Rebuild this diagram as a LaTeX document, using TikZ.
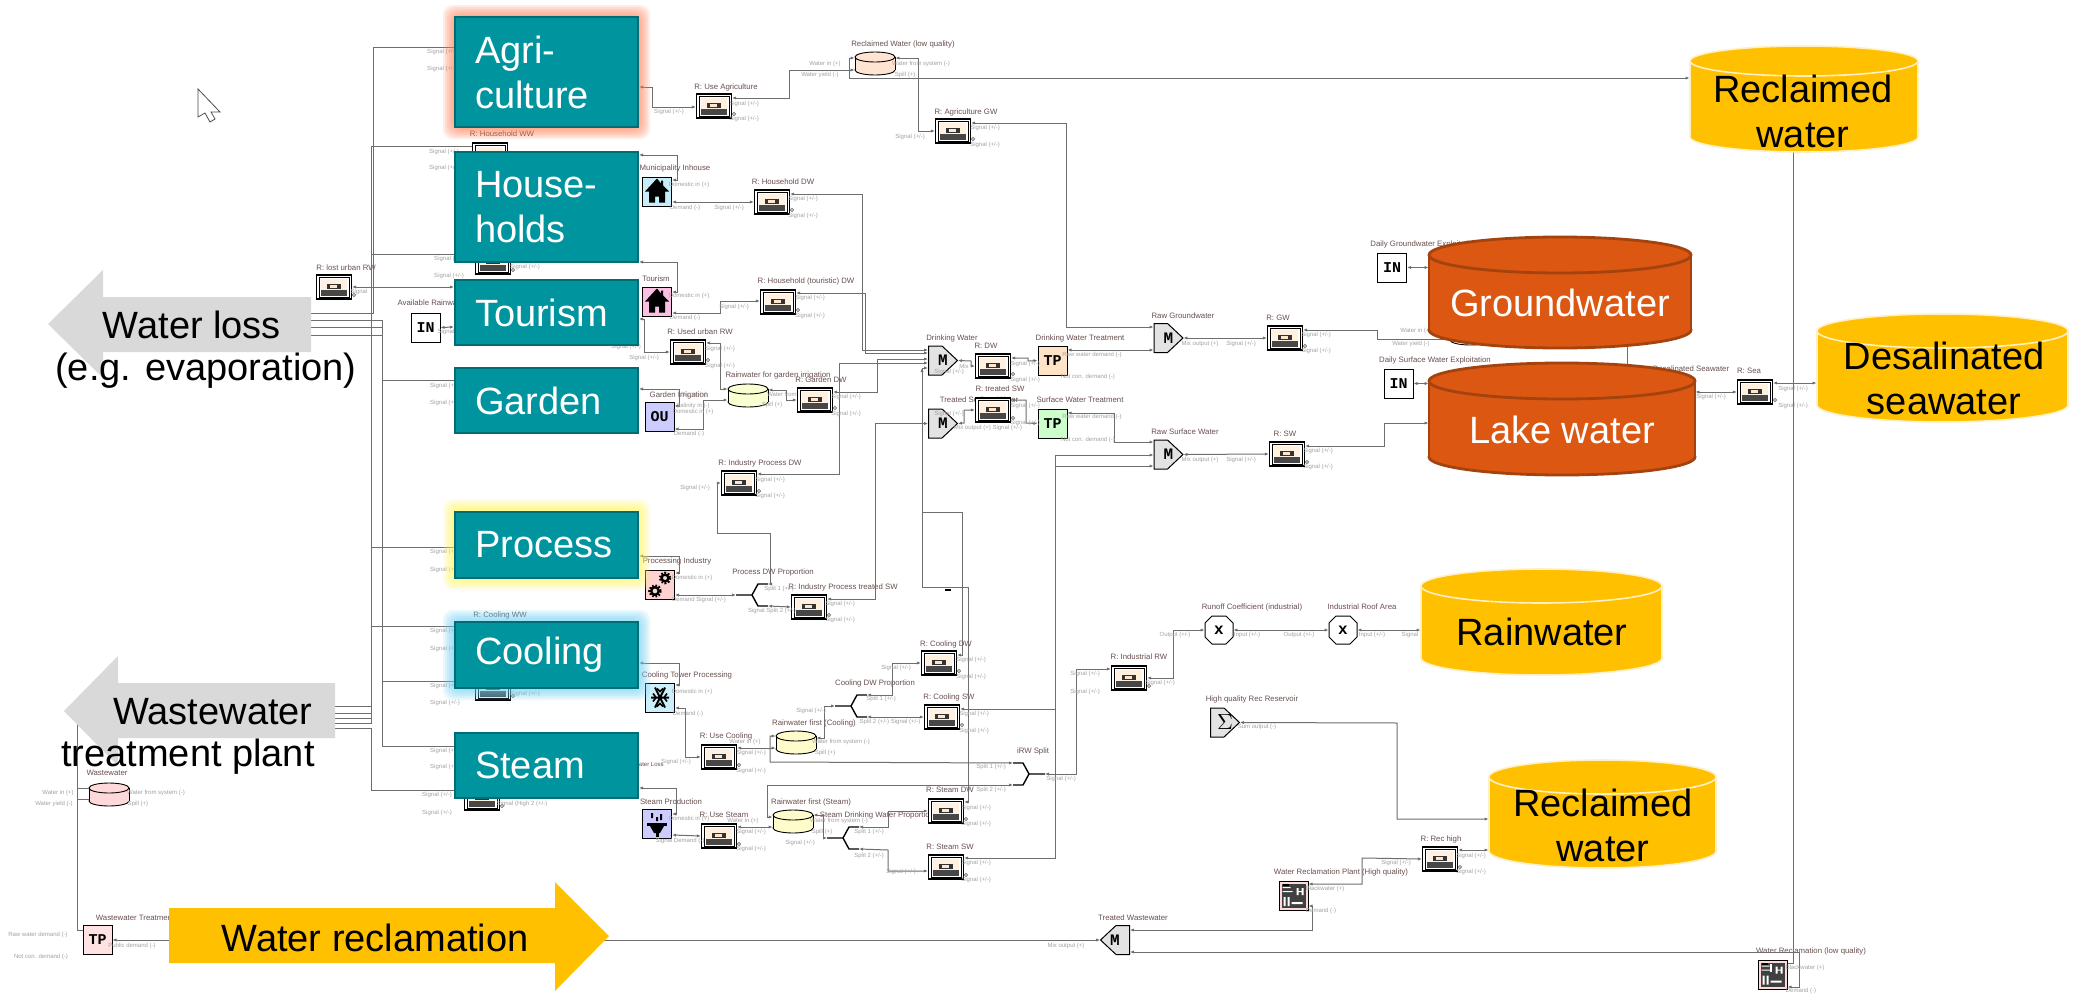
\documentclass[tikz,border=0pt]{standalone}
\usepackage{fontspec}
\setmainfont{Liberation Sans}
\newfontfamily\monob[BoldFont={Liberation Mono Bold}]{Liberation Mono}
\usetikzlibrary{calc,arrows.meta}
\pgfdeclarelayer{bg}
\pgfsetlayers{bg,main}
\definecolor{teal1}{HTML}{00949F}
\definecolor{teal2}{HTML}{006C74}
\definecolor{org1}{HTML}{DB5712}
\definecolor{org2}{HTML}{A5430F}
\definecolor{yel1}{HTML}{FFC000}
\definecolor{yel2}{HTML}{FFEFC4}
\definecolor{grey1}{HTML}{D9D9D9}
\definecolor{wire}{HTML}{6E6E6E}
\definecolor{lab}{HTML}{A2A2A2}
\definecolor{ttlc}{HTML}{6A5050}
\tikzset{
  bigbox/.style={draw=teal2,fill=teal1,line width=1pt,inner xsep=10pt,inner ysep=0pt,text=white,align=left,text width=71.5pt,minimum height=#1,font=\fontsize{19}{22.5}\selectfont},
  bigtext/.style={inner sep=0pt,align=center,font=\fontsize{19}{22.5}\selectfont},
  conn/.style={draw=wire,line width=0.5pt,{Latex[length=2pt,width=1.6pt]}-{Latex[length=2pt,width=1.6pt]}},
  bus/.style={draw=wire,line width=0.5pt},
  sml/.style={inner sep=0pt,text=lab,font=\fontsize{3}{3}\selectfont},
  ttl/.style={inner sep=0pt,text=ttlc,font=\fontsize{3.9}{4}\selectfont},
  recbox/.style={draw=black,fill=white,line width=0.6pt,minimum width=17.5pt,minimum height=12pt,inner sep=0pt},
  iconbox/.style={draw=black,line width=0.5pt,minimum width=14.5pt,minimum height=14.5pt,inner sep=0pt,font=\monob\bfseries\fontsize{7.5}{7.5}\selectfont},
  glyph/.style={inner sep=0pt,font=\monob\bfseries\fontsize{8}{8}\selectfont}
}
\newcounter{lb}
\newcommand\lbl[3]{\stepcounter{lb}\node[sml] (lb\thelb) at (#1,#2) {#3};}
\newcommand\rsig[3]{\lbl{#1}{#2}{Signal (+/-)}\lbl{#1}{#3}{Signal (+/-)}}
\newcommand\tl[3]{\stepcounter{lb}\node[ttl] (lb\thelb) at (#1,#2) {#3};}
\newcommand\recb[6]{%
  \node[recbox] (#1) at (#2,#3) {};
  \begin{scope}[shift={(#1.center)}]
    \draw[line width=0.3pt] (-15,-10) rectangle (15,10);
    \fill[fill=white!88!orange] (-13,-8) rectangle (13,3);
    \fill[fill=black!72] (-13,3) rectangle (13,8.5);
    \fill[fill=black!80] (-7,-3.5) rectangle (7,1.5);
    \fill[fill=white!80!orange] (-4,-2.5) rectangle (3,0.5);
    \draw[wire,line width=0.3pt] (20,8) circle (1.6);
  \end{scope}
  \tl{#5}{#6}{#4}}
\newcommand\ibox[8]{%
  \node[iconbox,fill=#4] (#1) at (#2,#3) {#5};
  \tl{#7}{#8}{#6}}
\newcommand\houseg[1]{\begin{scope}[shift={(#1.center)}]
  \fill (0,-13) -- (-12,0) -- (-8,0) -- (-8,11) -- (-2,11) -- (-2,5) -- (2,5) -- (2,11) -- (8,11) -- (8,0) -- (12,0) -- (6,-6) -- (6,-11) -- (4,-11) -- (4,-8) -- cycle;
  \end{scope}}
\newcommand\gearg[1]{\begin{scope}[shift={(#1.center)}]
  \draw[line width=1.3pt,dash pattern=on 0.8pt off 0.8pt] (5,-7) circle (5);
  \draw[line width=1.3pt,dash pattern=on 0.8pt off 0.8pt] (-5,6) circle (5.5);
  \draw[line width=1.2pt] (5,-7) circle (3.4);
  \draw[line width=1.2pt] (-5,6) circle (3.8);
  \end{scope}}
\newcommand\snowg[1]{\begin{scope}[shift={(#1.center)}]
  \draw[line width=1pt] (-9,0) -- (9,0) (-5,-10) -- (5,10) (-5,10) -- (5,-10);
  \draw[line width=0.8pt] (-7,-4) -- (-4,0) -- (-7,4) (7,-4) -- (4,0) -- (7,4) (-3,-9) -- (0,-6) -- (3,-9) (-3,9) -- (0,6) -- (3,9);
  \end{scope}}
\newcommand\plugg[1]{\begin{scope}[shift={(#1.center)}]
  \fill (-10,-1) rectangle (10,2);
  \fill (-7,2) -- (7,2) -- (3,9) -- (-3,9) -- cycle;
  \fill (-1.5,9) rectangle (1.5,13);
  \fill (-6,-11) rectangle (-4,-6) (-1,-7) rectangle (1,-3) (3,-10) rectangle (5,-4);
  \end{scope}}
\newcommand\plantg[2]{\begin{scope}[shift={(#1.center)}]
  \fill[black!75] (-12,-12) rectangle (12,12);
  \fill[white] (-10,1) rectangle (-8,10) (-6,1) rectangle (-4,10) (-2,6) rectangle (9,8);
  \fill[white] (3,-8) rectangle (5,-1) (8,-8) rectangle (10,-1) (3,-5) rectangle (10,-4);
  \fill[white] (-11,-5) rectangle (-1,-4) (-11,-9) rectangle (-3,-8);
  \fill[black] (-11,-12) rectangle (-5,-10);
  \fill[white] #2;
  \end{scope}}
\newcommand\tank[7]{%
  \node[inner sep=0pt,minimum width=20pt,minimum height=11.5pt] (#1) at (#2,#3) {};
  \begin{scope}[shift={(#1.center)}]
    \fill[fill=#4,draw=black,line width=0.45pt] (0,7) ellipse [x radius=20,y radius=5];
    \fill[fill=#4] (-20,-6) rectangle (20,7);
    \draw[line width=0.45pt] (-20,-6) -- (-20,7) (20,-6) -- (20,7);
    \fill[fill=#4,draw=black,line width=0.45pt] (0,-6) ellipse [x radius=20,y radius=5];
  \end{scope}
  \tl{#6}{#7}{#5}}
\newcommand\mixb[8]{%
  \begin{scope}[shift={(#2,#3)},xscale=#4]
    \fill[fill=black!11,draw=black,line width=0.5pt] (-14.5,-14.5) -- (-1,-14.5) -- (14.5,0) -- (-1,14.5) -- (-14.5,14.5) -- cycle;
  \end{scope}
  \node[glyph,minimum size=14.5pt] (#1) at (#2,#3) {#5};
  \tl{#7}{#8}{#6}}
\newcommand\octb[6]{%
  \begin{scope}[shift={(#2,#3)}]
    \fill[fill=white,draw=black,line width=0.5pt] (-14,-7) -- (-7,-14) -- (7,-14) -- (14,-7) -- (14,7) -- (7,14) -- (-7,14) -- (-14,7) -- cycle;
  \end{scope}
  \node[glyph,minimum size=14pt] (#1) at (#2,#3) {x};
  \tl{#5}{#6}{#4}}
\newcommand\forkb[4]{%
  \begin{scope}[shift={(#2,#3)},xscale=#4]
    \coordinate (#1-i) at (-16,0);
    \coordinate (#1-a) at (16,-11);
    \coordinate (#1-b) at (16,11);
    \draw[line width=0.7pt,line join=round] (-16,0) -- (0,0) -- (6,-11) -- (16,-11);
    \draw[line width=0.7pt,line join=round] (0,0) -- (6,11) -- (16,11);
  \end{scope}}
\newcommand\cyl[9]{% name x1 y1 x2 y2 ry fill draw lw
  \pgfmathsetmacro\cxm{(#2+#4)/2}
  \pgfmathsetmacro\crx{(#4-#2)/2}
  \pgfmathsetmacro\cya{#3+#6}
  \pgfmathsetmacro\cyb{#5-#6}
  \node[inner sep=0pt,minimum width={(#4-#2)*0.5pt},minimum height={(#5-#3)*0.5pt}] (#1) at (\cxm,{(#3+#5)/2}) {};
  \fill[fill=#7,draw=#8,line width=#9] (\cxm,\cyb) ellipse [x radius=\crx,y radius=#6];
  \fill[fill=#7] (#2,\cya) rectangle (#4,\cyb);
  \draw[#8,line width=#9] (#2,\cya) -- (#2,\cyb) (#4,\cya) -- (#4,\cyb);
  \fill[fill=#7,draw=#8,line width=#9] (\cxm,\cya) ellipse [x radius=\crx,y radius=#6];
}
\newcommand\glowr[5]{% x1 y1 x2 y2 color
  \foreach \g in {2,4,...,12}{\fill[#5,opacity=0.14,rounded corners=5pt] ({#1-\g},{#2-\g}) rectangle ({#3+\g},{#4+\g});}
}
\begin{document}
\begin{tikzpicture}[x=0.5pt,y=-0.5pt]
\useasboundingbox (0,0) rectangle (2074,1001);

% ---------- big shapes (front layer) ----------
\glowr{455}{17}{638}{127}{red!50!orange!70!white}
\glowr{455}{511}{638}{578}{yellow!70!white}
\glowr{455}{622}{638}{688}{cyan!60!white}
\node[bigbox=55pt] (agri) at (546.5,72) {Agri-\\culture};
\node[bigbox=55pt] (house) at (546.5,207) {House-\\holds};
\node[bigbox=32.5pt] (tour) at (546.5,312.5) {Tourism};
\node[bigbox=32.5pt] (gard) at (546.5,400.5) {Garden};
\node[bigbox=33pt] (proc) at (546.5,544.5) {Process};
\node[bigbox=33pt] (cool) at (546.5,655) {Cooling};
\node[bigbox=32.5pt] (stea) at (546.5,765.5) {Steam};

\cyl{cRecT}{1690}{46}{1918}{152}{15}{yel1}{yel2}{0.8pt}
\cyl{cGW}{1429}{237}{1691}{348}{18}{org1}{org2}{1.4pt}
\cyl{cLake}{1429}{363}{1695}{475}{18}{org1}{org2}{1.4pt}
\cyl{cDes}{1817}{314}{2068}{422}{17}{yel1}{yel2}{0.8pt}
\cyl{cRain}{1421}{569}{1662}{675}{17}{yel1}{yel2}{0.8pt}
\cyl{cRecM}{1489}{760}{1716}{868}{17}{yel1}{yel2}{0.8pt}
\node[bigtext] (tRecT) at (1803,111) {Reclaimed\\water};
\node[bigtext,text=white] (tGW) at (1560,303) {Groundwater};
\node[bigtext,text=white] (tLake) at (1562,430) {Lake water};
\node[bigtext] (tDes) at (1944,378) {Desalinated\\seawater};
\node[bigtext] (tRain) at (1542,632) {Rainwater};
\node[bigtext] (tRecM) at (1603,825) {Reclaimed\\water};

\fill[grey1] (48,324) -- (103,270) -- (103,297) -- (311,297) -- (311,352) -- (103,352) -- (103,378) -- cycle;
\fill[grey1] (64,711) -- (118,656) -- (118,683) -- (335,683) -- (335,738) -- (118,738) -- (118,766) -- cycle;
\fill[yel1] (169,908) -- (555,908) -- (555,882) -- (609,936) -- (555,991) -- (555,963) -- (169,963) -- cycle;
\node[bigtext] (tLoss) at (192,325) {Water loss};
\node[bigtext] (tEvap) at (206,371) {(e.g. evaporation)};
\node[bigtext] (tWaste) at (213,712) {Wastewater};
\node[bigtext] (tPlant) at (188,757) {treatment plant};
\node[bigtext] (tRecl) at (375,938) {Water reclamation};

% cursor
\fill[fill=white,draw=black!70,line width=0.4pt] (198,89) -- (198,117) -- (205,113) -- (210,122) -- (215,119) -- (211,112) -- (220,112) -- cycle;

\begin{pgfonlayer}{bg}
\fill[white] (0,0) rectangle (2074,1001);
% ---------- blocks ----------
\recb{rHHww}{490}{155}{R: Household WW}{502}{134}
\recb{rT}{493}{262}{}{493}{250}
\recb{rCw}{493}{636}{R: Cooling WW}{500}{615}
\recb{rCl}{493}{688}{}{493}{680}
\recb{rSt}{482}{798}{}{482}{790}
\recb{rLost}{334}{287}{R: lost urban RW}{346}{268}
\ibox{aRain}{425.5}{327.5}{white}{IN}{Available Rainwater}{432}{303}
\recb{rUseAg}{714}{106}{R: Use Agriculture}{726}{87}
\tank{tkRec}{875}{63}{red!15!orange!18!white}{Reclaimed Water (low quality)}{903}{44}
\recb{rAgGW}{953}{131}{R: Agriculture GW}{966}{112}
\ibox{iMun}{657}{191.5}{cyan!22!white}{}{Municipality Inhouse}{675}{168}
\houseg{iMun}
\recb{rHHdw}{772}{202}{R: Household DW}{783}{182}
\ibox{iTour}{657}{301.5}{magenta!25!white}{}{Tourism}{656}{279}
\houseg{iTour}
\recb{rHTdw}{778}{302}{R: Household (touristic) DW}{806}{281}
\recb{rUsed}{688}{352}{R: Used urban RW}{700}{332}
\tank{tkGard}{748}{395}{green!12!yellow!18!white}{Rainwater for garden irrigation}{778}{375}
\ibox{iGard}{659.5}{417}{blue!20!white}{OU}{Garden Irrigation}{679}{395}
\recb{rGaDW}{815}{400}{R: Garden DW}{821}{380}
\mixb{mDW}{943}{360.5}{1}{M}{Drinking Water}{952}{338}
\recb{rDW}{993}{366}{R: DW}{986}{346}
\ibox{tpDW}{1052.5}{360.5}{orange!22!white}{TP}{Drinking Water Treatment}{1080}{338}
\mixb{mGW}{1168.5}{338}{1}{M}{Raw Groundwater}{1183}{316}
\recb{rGW}{1285}{338}{R: GW}{1278}{318}
\tank{tkHid}{1470}{333}{white}{}{1470}{325}
\ibox{inGW}{1392}{267.5}{white}{IN}{Daily Groundwater Exploitation}{1424}{244}
\ibox{inSW}{1398.5}{383.5}{white}{IN}{Daily Surface Water Exploitation}{1435}{360}
\mixb{mTS}{943}{423.5}{1}{M}{Treated Surface Water}{979}{400}
\recb{rTS}{993}{410}{R: treated SW}{1000}{389}
\ibox{tpSW}{1052.5}{423.5}{green!20!white}{TP}{Surface Water Treatment}{1080}{400}
\mixb{mSW}{1168.5}{454.5}{1}{M}{Raw Surface Water}{1185}{432}
\recb{rSW}{1287}{454}{R: SW}{1285}{434}
\recb{rSea}{1755}{392}{R: Sea}{1749}{371}
\tl{1691}{369}{Desalinated Seawater}
\recb{rIPd}{739}{483}{R: Industry Process DW}{760}{463}
\ibox{iProc}{660}{585}{pink!70!white}{}{Processing Industry}{677}{561}
\gearg{iProc}
\forkb{fkP}{752}{595}{1}
\tl{773}{572}{Process DW Proportion}
\recb{rIPs}{809}{607}{R: Industry Process treated SW}{843}{587}
\ibox{iCool}{660}{697.5}{cyan!20!white}{}{Cooling Tower Processing}{687}{675}
\snowg{iCool}
\recb{rUC}{719}{757}{R: Use Cooling}{726}{736}
\tank{tkCool}{796}{742}{yellow!20!white}{Rainwater first (Cooling)}{814}{723}
\forkb{fkC}{851}{706}{1}
\tl{875}{683}{Cooling DW Proportion}
\recb{rCD}{939}{663}{R: Cooling DW}{946}{644}
\recb{rCS}{942}{717}{R: Cooling SW}{949}{697}
\forkb{fkR}{1029}{774}{-1}
\tl{1033}{751}{iRW Split}
\recb{rIR}{1129}{678}{R: Industrial RW}{1139}{657}
\octb{oRun}{1219}{630}{Runoff Coefficient (industrial)}{1252}{607}
\octb{oRoof}{1343}{630}{Industrial Roof Area}{1362}{607}
\mixb{mSum}{1225}{722.5}{1}{\fontsize{11}{11}\selectfont$\Sigma$}{High quality Rec Reservoir}{1252}{699}
\recb{rRH}{1440}{859}{R: Rec high}{1441}{839}
\ibox{iWRh}{1293.5}{896}{pink!60!white}{}{Water Reclamation Plant (High quality)}{1341}{872}
\plantg{iWRh}{(0,0) rectangle (0,0)}
\ibox{iWRl}{1772.5}{974.5}{pink!60!white}{}{Water Reclamation (low quality)}{1811}{951}
\plantg{iWRl}{(-3,-11) rectangle (-1,-3)}
\mixb{mTW}{1115}{940}{-1}{M}{Treated Wastewater}{1133}{918}
\ibox{tpWW}{97.5}{940}{pink!45!white}{TP}{Wastewater Treatment Plant}{145}{918}
\tank{tkWW}{109}{794}{pink!60!white}{Wastewater}{107}{773}
\ibox{iSteam}{657}{824}{blue!20!white}{}{Steam Production}{671}{802}
\plugg{iSteam}
\recb{rUS}{719}{836}{R: Use Steam}{724}{815}
\tank{tkSteam}{793}{821}{yellow!20!white}{Rainwater first (Steam)}{811}{802}
\forkb{fkS}{843}{838}{1}
\tl{877}{815}{Steam Drinking Water Proportion}
\recb{rSD}{946}{811}{R: Steam DW}{950}{790}
\recb{rSS}{946}{867}{R: Steam SW}{950}{847}
\node[sml,text=ttlc,anchor=east] (coolLoss) at (664,765) {Cooling Water Loss};

% ---------- connectors ----------
\coordinate (lA) at (311,313); \coordinate (lB) at (311,320); \coordinate (lC) at (311,327); \coordinate (lD) at (311,335);
\coordinate (wA) at (335,706); \coordinate (wB) at (335,713); \coordinate (wC) at (335,718); \coordinate (wD) at (335,723); \coordinate (wE) at (335,728);
\draw[bus] (lA) -- (373,313) -- (373,47) -- (agri.west |- 0,47);
\draw[bus] (lB) -- (382,320) -- (382,746) -- (stea.west |- 0,746);
\draw[bus] (lC) -- (382,327) -- (382,380) -- (gard.west |- 0,380);
\draw[bus] (lD) -- (382,335) -- (382,681) -- (cool.west |- 0,681);
\draw[bus] (wA) -- (371,706) -- (371,146) -- (rHHww.west |- 0,146);
\draw[bus] (wB) -- (371,713) -- (371,254) -- (house.west |- 0,254);
\draw[bus] (wC) -- (371,718) -- (371,547) -- (proc.west |- 0,547);
\draw[bus] (wD) -- (371,723) -- (371,626) -- (cool.west |- 0,626);
\draw[bus] (wE) -- (371,728) -- (371,790) -- (stea.west |- 0,790);
\draw[conn] (rLost.east) -- (tour.west |- 0,287);
\draw[conn] (aRain.east) -- (tour.west |- 0,327);

\draw[conn] (agri.east |- 0,87) -- (652,87) -- (652,107) -- (rUseAg.west |- 0,107);
\draw[conn] (rUseAg.east |- 0,98) -- (789,98) -- (789,70) -- (tkRec.west |- 0,70);
\draw[conn] (tkRec.west |- 0,58) -- (849,58) -- (849,78) -- (cRecT.west |- 0,78);
\draw[conn] (tkRec.east |- 0,58) -- (918,58) -- (918,131) -- (rAgGW.west);
\draw[conn] (rAgGW.east |- 0,123) -- (1066,123) -- (1066,327) -- (mGW.west |- 0,327);

\draw[conn] (house.east |- 0,155) -- (677,155) -- (677,180) -- (iMun.east |- 0,180);
\draw[conn] (iMun.east |- 0,202) -- (rHHdw.west);
\draw[conn] (rHHdw.east |- 0,194) -- (862,194) -- (862,350) -- (mDW.west |- 0,350);
\draw[conn] (house.east |- 0,262) -- (677,262) -- (677,292) -- (iTour.east |- 0,292);
\draw[conn] (iTour.east |- 0,313) -- (720,313) -- (720,301) -- (rHTdw.west |- 0,301);
\draw[conn] (rHTdw.east |- 0,293) -- (865,293) -- (865,353) -- (mDW.west |- 0,353);
\draw[conn] (tour.east |- 0,319) -- (644,319) -- (644,352) -- (rUsed.west);
\draw[conn] (rUsed.east |- 0,343) -- (720,343) -- (720,389) -- (tkGard.west |- 0,389);
\draw[conn] (gard.east |- 0,389) -- (679,389) -- (679,406) -- (iGard.east |- 0,406);
\draw[conn] (iGard.east |- 0,429) -- (703,429) -- (703,400) -- (tkGard.west |- 0,400);
\draw[conn] (tkGard.east |- 0,390) -- (786,390) -- (786,400) -- (rGaDW.west);
\draw[conn] (rGaDW.east |- 0,392) -- (877,392) -- (877,359) -- (mDW.west |- 0,359);
\draw[conn] (rIPd.east |- 0,474) -- (839,474) -- (839,363) -- (mDW.west |- 0,363);
\coordinate (vJ) at (922,368);
\draw[conn] (mDW.west |- 0,368) -- (vJ) -- (922,587) -- (968,587) -- (968,802) -- (rSD.east |- 0,802);
\draw[conn] (vJ) -- (922,512) -- (962,512) -- (962,655) -- (rCD.east |- 0,655);
\draw[line width=0.8pt] (945,590) -- (951,590);
\draw[conn] (mDW.east) -- (971,361) -- (971,366) -- (rDW.west);
\draw[conn] (rDW.east |- 0,358) -- (1028,358) -- (1028,361) -- (tpDW.west);
\draw[conn] (tpDW.east |- 0,350) -- (mGW.west |- 0,350);
\draw[conn] (mGW.east) -- (rGW.west);
\draw[conn] (rGW.east |- 0,330) -- (1377,330) -- (1377,339) -- (tkHid.west |- 0,339);
\draw[conn] (inGW.east) -- (cGW.west |- inGW.east);
\draw[conn] (inSW.east) -- (cLake.west |- inSW.east);
\draw[bus] (1627,340) -- (1627,370);
\draw[conn] (mTS.east) -- (964,423) -- (964,410) -- (rTS.west);
\draw[conn] (rTS.east |- 0,400) -- (1026,400) -- (1026,423) -- (tpSW.west);
\draw[conn] (tpSW.east |- 0,413) -- (1114,413) -- (1114,442) -- (mSW.west |- 0,442);
\draw[conn] (mSW.east) -- (rSW.west);
\draw[conn] (rSW.east |- 0,446) -- (1384,446) -- (1384,423) -- (cLake.west |- 0,423);
\draw[conn] (mSW.west |- 0,455) -- (1055,455) -- (1055,858) -- (rSS.east |- 0,858);
\draw[conn] (mSW.west |- 0,466) -- (1055,466) -- (1055,709) -- (rCS.east |- 0,709);
\draw[conn] (mTS.west) -- (875,423.5) -- (875,599) -- (rIPs.east |- 0,599);
\draw[conn] (cLake.east |- 0,392) -- (rSea.west);
\draw[conn] (rSea.east |- 0,383) -- (cDes.west |- 0,383);
\draw[bus] (cRecT.south -| 1793,0) -- (1793,963) -- (iWRl.east |- 0,963);
\draw[conn] (iProc.east |- 0,595) -- (fkP-i);
\draw[conn] (proc.east |- 0,556) -- (679,556) -- (679,573) -- (iProc.east |- 0,573);
\draw[conn] (fkP-a) -- (770,584) -- (770,533) -- (717,533) -- (717,483) -- (rIPd.west);
\draw[conn] (fkP-b) -- (rIPs.west);
\draw[conn] (cool.east |- 0,663) -- (679,663) -- (679,685) -- (iCool.east |- 0,685);
\draw[conn] (iCool.east |- 0,708) -- (685,708) -- (685,757) -- (rUC.west);
\draw[conn] (rUC.east |- 0,748) -- (tkCool.west |- 0,748);
\draw[conn] (tkCool.west |- 0,736) -- (770,736) -- (770,762) -- (fkR-a);
\draw[conn] (tkCool.east |- 0,738) -- (824,738) -- (824,706) -- (fkC-i);
\draw[conn] (fkC-a) -- (892,695) -- (892,663) -- (rCD.west);
\draw[conn] (fkC-b) -- (rCS.west);
\draw[conn] (fkR-b) -- (767,785) -- (767,817) -- (tkSteam.west |- 0,817);
\draw[conn] (fkR-i) -- (1076,774) -- (1076,669) -- (rIR.west |- 0,669);
\draw[conn] (rIR.east) -- (1173,678) -- (1173,630) -- (oRun.west);
\draw[conn] (oRun.east) -- (oRoof.west);
\draw[conn] (oRoof.east) -- (cRain.west |- oRoof.east);
\draw[conn] (mSum.east) -- (1397,723) -- (1397,819) -- (cRecM.west |- 0,819);
\draw[conn] (rRH.east |- 0,850) -- (cRecM.west |- 0,850);
\draw[conn] (iWRh.east |- 0,884) -- (1362,884) -- (1362,858) -- (rRH.west);
\draw[conn] (iWRh.east |- 0,906) -- (1312,906) -- (1312,930) -- (mTW.east |- 0,930);
\draw[conn] (iWRl.east |- 0,987) -- (1799,987) -- (1799,952) -- (mTW.east |- 0,952);
\draw[conn] (mTW.west) -- (tpWW.east);
\coordinate (wwTop) at (77,723);
\draw[bus] (wwTop) -- (77,930) -- (tpWW.west |- 0,930);
\draw[bus] (77,788) -- (tkWW.west |- 0,788);
\draw[bus] (77,799) -- (tkWW.west |- 0,799);
\draw[conn] (stea.east |- 0,788) -- (676,788) -- (676,814) -- (iSteam.east |- 0,814);
\draw[conn] (iSteam.east |- 0,835) -- (rUS.west);
\draw[conn] (rUS.east |- 0,827) -- (tkSteam.west |- 0,827);
\draw[conn] (tkSteam.east |- 0,815) -- (823,815) -- (823,838) -- (fkS-i);
\draw[conn] (fkS-a) -- (888,827) -- (888,811) -- (rSD.west);
\draw[conn] (fkS-b) -- (888,850) -- (888,871) -- (rSS.west |- 0,871);

% ---------- tiny port labels ----------
\rsig{442}{52}{69}\rsig{444}{152}{168}\rsig{449}{259}{276}\rsig{445}{386}{403}
\rsig{445}{552}{570}\rsig{445}{631}{649}\rsig{445}{686}{703}\rsig{445}{751}{767}
\rsig{437}{795}{813}\lbl{525}{267}{Signal (+/-)}\lbl{525}{694}{Signal (+/-)}\lbl{522}{804}{Signal (High 2 (+/-)}
\lbl{359}{292}{Signal}\lbl{446}{332}{Signal}
\rsig{744}{104}{119}\lbl{669}{112}{Signal (+/-)}
\lbl{825}{64}{Water in (+)}\lbl{820}{75}{Water yield (-)}\lbl{921}{64}{Water from system (-)}\lbl{905}{75}{Spill (+)}
\rsig{985}{128}{145}\lbl{910}{137}{Signal (+/-)}
\lbl{689}{185}{Domestic in (+)}\lbl{685}{208}{Demand (-)}\lbl{729}{208}{Signal (+/-)}\rsig{803}{199}{216}
\lbl{689}{296}{Domestic in (+)}\lbl{685}{318}{Demand (-)}\lbl{734}{307}{Signal (+/-)}\rsig{810}{298}{316}
\rsig{720}{349}{366}\lbl{644}{358}{Signal (+/-)}\lbl{626}{347}{Signal (+/-)}
\lbl{694}{395}{Signal (+)}\lbl{693}{406}{Salinity in (-)}\lbl{693}{412}{Domestic in (+)}\lbl{689}{434}{Demand (-)}
\lbl{782}{394}{Water from}\lbl{772}{405}{Spill (+)}\rsig{846}{397}{414}
\rsig{770}{480}{496}\lbl{695}{488}{Signal (+/-)}
\lbl{1092}{355}{Raw water demand (-)}\lbl{1088}{377}{Not con. demand (-)}\lbl{1092}{417}{Raw water demand (-)}\lbl{1088}{440}{Not con. demand (-)}
\rsig{1025}{364}{380}\rsig{1025}{406}{423}
\lbl{964}{366}{Mix}\lbl{949}{372}{Signal (+/-)}\lbl{949}{414}{Signal (+/-)}\lbl{988}{428}{Mix output (+) Signal (+/-)}
\lbl{1200}{344}{Mix output (+)}\lbl{1241}{344}{Signal (+/-)}\lbl{1200}{460}{Mix output (+)}\lbl{1241}{460}{Signal (+/-)}
\rsig{1316}{335}{351}\rsig{1318}{451}{467}
\lbl{1416}{331}{Water in (+)}\lbl{1411}{344}{Water yield (-)}
\lbl{1711}{397}{Signal (+/-)}\rsig{1793}{389}{406}
\lbl{692}{578}{Domestic in (+)}\lbl{699}{600}{Demand Signal (+/-)}\lbl{779}{589}{Split 1 (+/-)}\lbl{772}{611}{Signal Split 2 (+/-)}\rsig{840}{604}{620}
\lbl{692}{692}{Domestic in (+)}\lbl{688}{714}{Demand (-)}
\lbl{745}{742}{Water in (+)}\rsig{751}{753}{771}\lbl{841}{742}{Water from system (-)}\lbl{825}{753}{Spill (+)}
\lbl{811}{711}{Signal (+/-)}\lbl{881}{699}{Split 1 (+/-)}\lbl{890}{722}{Split 2 (+/-) Signal (+/-)}\lbl{896}{668}{Signal (+/-)}
\rsig{971}{660}{677}\rsig{974}{714}{731}
\lbl{991}{767}{Split 1 (+/-)}\lbl{991}{790}{Split 2 (+/-)}\lbl{1061}{779}{Signal (+/-)}
\rsig{1085}{674}{692}\lbl{1160}{683}{Signal (+/-)}\lbl{1175}{635}{Output (+/-)}\lbl{1247}{635}{Input (+/-)}\lbl{1299}{635}{Output (+/-)}\lbl{1372}{635}{Input (+/-)}\lbl{1410}{635}{Signal}
\lbl{1257}{727}{Sum output (-)}
\lbl{689}{819}{Domestic in (+)}\lbl{680}{841}{Signal Demand (-)}\lbl{676}{762}{Signal (+/-)}
\lbl{743}{821}{Water in (+)}\rsig{751}{832}{849}\lbl{839}{821}{Water from system (-)}\lbl{822}{832}{Spill (+)}\lbl{800}{843}{Signal (+/-)}
\lbl{869}{832}{Split 1 (+/-)}\lbl{869}{856}{Split 2 (+/-)}\lbl{901}{872}{Signal (+/-)}
\rsig{976}{808}{824}\rsig{976}{863}{880}
\lbl{1066}{946}{Mix output (+)}
\rsig{1471}{856}{872}\lbl{1396}{863}{Signal (+/-)}\lbl{1325}{889}{Blackwater (+)}\lbl{1321}{911}{Demand (-)}
\lbl{1805}{968}{Blackwater (+)}\lbl{1801}{991}{Demand (-)}
\lbl{58}{793}{Water in (+)}\lbl{54}{804}{Water yield (-)}\lbl{156}{793}{Water from system (-)}\lbl{138}{804}{Spill (+)}
\lbl{38}{935}{Raw water demand (-)}\lbl{41}{957}{Not con. demand (-)}\lbl{132}{946}{Public demand (-)}
\end{pgfonlayer}
\end{tikzpicture}
\end{document}
